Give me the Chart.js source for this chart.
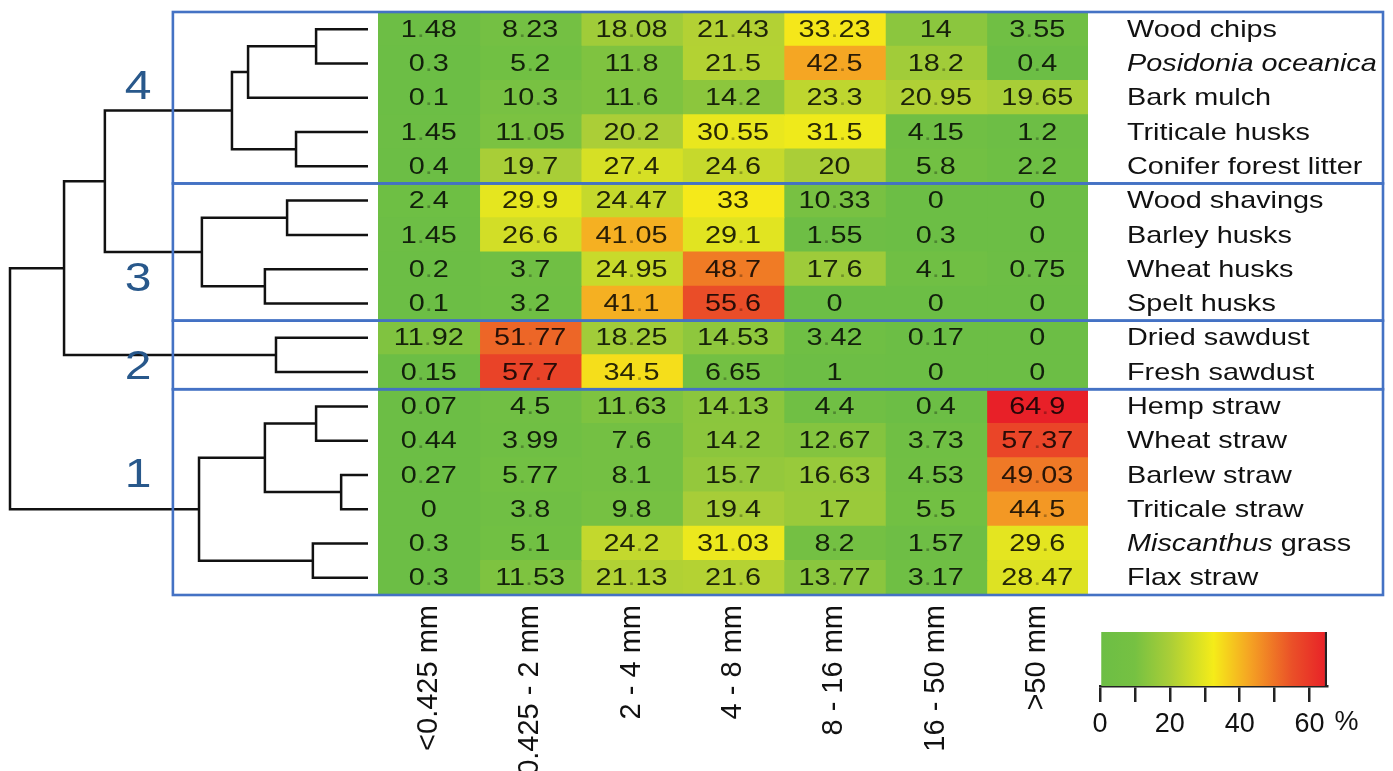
<!DOCTYPE html>
<html>
<head>
<meta charset="utf-8">
<script src="https://cdn.jsdelivr.net/npm/chart.js@4.4.1/dist/chart.umd.min.js"></script>
<style>
  body { margin: 0; background: #fff; }
  #wrap { position: relative; width: 1393px; height: 771px; }
  #wrap canvas { position: absolute; left: 0; top: 0; }
</style>
</head>
<body>
<div id="wrap">
  <canvas id="heat" width="1393" height="771"></canvas>
  <canvas id="scale" width="1393" height="771"></canvas>
  <canvas id="tree" width="1393" height="771"></canvas>
</div>
<script>
// particle size classes (columns) and materials (rows, top to bottom)
const sizeClasses = ['<0.425 mm', '0.425 - 2 mm', '2 - 4 mm', '4 - 8 mm', '8 - 16 mm', '16 - 50 mm', '>50 mm'];
const materials = ['Wood chips', 'Posidonia oceanica', 'Bark mulch', 'Triticale husks', 'Conifer forest litter',
  'Wood shavings', 'Barley husks', 'Wheat husks', 'Spelt husks',
  'Dried sawdust', 'Fresh sawdust',
  'Hemp straw', 'Wheat straw', 'Barlew straw', 'Triticale straw', 'Miscanthus grass', 'Flax straw'];
const italicWords = ['Posidonia', 'oceanica', 'Miscanthus'];

// % mass in each class, one array per column
const lt0425   = [1.48, 0.3, 0.1, 1.45, 0.4, 2.4, 1.45, 0.2, 0.1, 11.92, 0.15, 0.07, 0.44, 0.27, 0, 0.3, 0.3];
const s0425to2 = [8.23, 5.2, 10.3, 11.05, 19.7, 29.9, 26.6, 3.7, 3.2, 51.77, 57.7, 4.5, 3.99, 5.77, 3.8, 5.1, 11.53];
const s2to4    = [18.08, 11.8, 11.6, 20.2, 27.4, 24.47, 41.05, 24.95, 41.1, 18.25, 34.5, 11.63, 7.6, 8.1, 9.8, 24.2, 21.13];
const s4to8    = [21.43, 21.5, 14.2, 30.55, 24.6, 33, 29.1, 48.7, 55.6, 14.53, 6.65, 14.13, 14.2, 15.7, 19.4, 31.03, 21.6];
const s8to16   = [33.23, 42.5, 23.3, 31.5, 20, 10.33, 1.55, 17.6, 0, 3.42, 1, 4.4, 12.67, 16.63, 17, 8.2, 13.77];
const s16to50  = [14, 18.2, 20.95, 4.15, 5.8, 0, 0.3, 4.1, 0, 0.17, 0, 0.4, 3.73, 4.53, 5.5, 1.57, 3.17];
const gt50     = [3.55, 0.4, 19.65, 1.2, 2.2, 0, 0, 0.75, 0, 0, 0, 64.9, 57.37, 49.03, 44.5, 29.6, 28.47];
const columns = [lt0425, s0425to2, s2to4, s4to8, s8to16, s16to50, gt50];

// dendrogram merges: [a, b, height]; leaves 0..16, new clusters numbered 17, 18, ...
const merges = [
  [0, 1, 0.145], [17, 2, 0.335], [3, 4, 0.201], [18, 19, 0.38],
  [5, 6, 0.226], [7, 8, 0.288], [21, 22, 0.464], [20, 23, 0.735],
  [9, 10, 0.257], [24, 25, 0.849],
  [11, 12, 0.145], [13, 14, 0.075], [27, 28, 0.288], [15, 16, 0.154], [29, 30, 0.472],
  [26, 31, 1.0]
];
const groupNames = ['4', '3', '2', '1'];
const groupRows = [[0, 4], [5, 8], [9, 10], [11, 16]];
const groupLabelAt = [[0.642, 1.71], [0.642, 7.3], [0.642, 9.89], [0.642, 13.04]];
const cutHeight = 0.545;

// colour scale
const legendTicks = [0, 20, 40, 60];
const legendMax = 65;
const colorStops = [[0, [108, 190, 69]], [10, [118, 193, 66]], [20, [170, 206, 55]], [32.5, [245, 236, 25]],
  [42.5, [245, 166, 35]], [55, [234, 80, 40]], [65, [232, 32, 40]]];

const FONT = '"Liberation Sans", Arial, sans-serif';

function rgbAt(v) {
  for (let i = 1; i < colorStops.length; i++) {
    const [v1, c1] = colorStops[i];
    const [v0, c0] = colorStops[i - 1];
    if (v <= v1 || i === colorStops.length - 1) {
      const t = Math.max(0, Math.min(1, (v - v0) / (v1 - v0)));
      return c0.map((a, k) => Math.round(a + (c1[k] - a) * t));
    }
  }
}
const css = (c, a) => a === undefined ? `rgb(${c[0]},${c[1]},${c[2]})` : `rgba(${c[0]},${c[1]},${c[2]},${a})`;
const colorFor = v => css(rgbAt(v));

function drawNumber(ctx, v, cx, cy) {
  const cell = rgbAt(v);
  const ink = cell.map(a => Math.round(a * 0.17));
  const s = String(v);
  const [ip, fp] = s.split('.');
  const sx = 1.2;
  ctx.font = '24px ' + FONT;
  const wI = ctx.measureText(ip).width;
  const wD = fp ? ctx.measureText('.').width : 0;
  const wF = fp ? ctx.measureText(fp).width : 0;
  ctx.save();
  ctx.translate(cx - (wI + wD + wF) * sx / 2, cy + 1);
  ctx.scale(sx, 1);
  ctx.textAlign = 'left';
  ctx.textBaseline = 'middle';
  ctx.fillStyle = css(ink);
  ctx.fillText(ip, 0, 0);
  if (fp) {
    ctx.fillStyle = css(ink, 0.35);
    ctx.fillText('.', wI, 0);
    ctx.fillStyle = css(ink);
    ctx.fillText(fp, wI + wD, 0);
  }
  ctx.restore();
}

function drawRowLabel(ctx, label, x, y) {
  ctx.save();
  ctx.translate(x, y + 1);
  ctx.scale(1.2, 1);
  ctx.textAlign = 'left';
  ctx.textBaseline = 'middle';
  ctx.fillStyle = '#111';
  let pos = 0;
  label.split(' ').forEach(w => {
    ctx.font = (italicWords.includes(w) ? 'italic ' : '') + '24px ' + FONT;
    ctx.fillText(w, pos, 0);
    pos += ctx.measureText(w + ' ').width;
  });
  ctx.restore();
}

const heatText = {
  id: 'heatText',
  afterDatasetsDraw(chart) {
    const { ctx, chartArea } = chart;
    const x = chart.scales.x, y = chart.scales.y;
    columns.forEach((vals, c) => {
      const cx = x.getPixelForValue(c + 0.5);
      vals.forEach((v, r) => drawNumber(ctx, v, cx, y.getPixelForValue(r)));
    });
    materials.forEach((m, r) => drawRowLabel(ctx, m, chartArea.right + 39, y.getPixelForValue(r)));
  }
};

new Chart(document.getElementById('heat'), {
  type: 'bar',
  data: {
    labels: materials,
    datasets: columns.map((vals, c) => ({
      data: vals.map(() => [c, c + 1]),
      backgroundColor: vals.map(colorFor),
      borderWidth: 0,
      grouped: false,
      barPercentage: 1,
      categoryPercentage: 1,
      inflateAmount: 0.6
    }))
  },
  options: {
    indexAxis: 'y',
    responsive: false,
    animation: false,
    events: [],
    layout: { padding: { left: 378, right: 305, top: 12, bottom: 0 } },
    plugins: { legend: { display: false }, tooltip: { enabled: false } },
    scales: {
      x: { type: 'linear', min: 0, max: 7, display: false },
      y: { type: 'category', offset: true, display: false },
      xc: {
        type: 'category',
        labels: sizeClasses,
        position: 'bottom',
        offset: true,
        grid: { display: false, drawTicks: false },
        border: { display: false },
        ticks: {
          minRotation: 90, maxRotation: 90, autoSkip: false, padding: 10,
          color: '#111', font: { family: FONT, size: 29 }
        },
        afterFit: s => { s.height = 176; }
      }
    }
  },
  plugins: [heatText]
});

// colour bar legend
const percentSign = {
  id: 'percentSign',
  afterDraw(chart) {
    const { ctx } = chart;
    const x = chart.scales.x;
    ctx.save();
    ctx.font = '27px ' + FONT;
    ctx.fillStyle = '#111';
    ctx.textAlign = 'center';
    ctx.textBaseline = 'middle';
    ctx.fillText('%', x.getPixelForValue(60) + 37, x.top + 37);
    ctx.restore();
  }
};

new Chart(document.getElementById('scale'), {
  type: 'bar',
  data: {
    labels: [''],
    datasets: [{
      data: [[0, legendMax]],
      backgroundColor: (c) => {
        const xs = c.chart.scales.x;
        const x0 = xs ? xs.getPixelForValue(0) : NaN;
        const x1 = xs ? xs.getPixelForValue(legendMax) : NaN;
        if (!isFinite(x0) || !isFinite(x1) || x0 === x1) return colorFor(0);
        const g = c.chart.ctx.createLinearGradient(x0, 0, x1, 0);
        colorStops.forEach(([v, col]) => g.addColorStop(v / legendMax, css(col)));
        return g;
      },
      borderColor: '#222',
      borderWidth: { top: 0, left: 0, bottom: 0, right: 2.5 },
      borderSkipped: false,
      barPercentage: 1,
      categoryPercentage: 1
    }]
  },
  options: {
    indexAxis: 'y',
    responsive: false,
    animation: false,
    events: [],
    layout: { padding: { left: 1100, right: 66, top: 632, bottom: 0 } },
    plugins: { legend: { display: false }, tooltip: { enabled: false } },
    scales: {
      y: { type: 'category', offset: true, display: false },
      x: {
        type: 'linear', min: 0, max: legendMax,
        grid: { drawOnChartArea: false, tickLength: 16, color: '#222', lineWidth: 2.5 },
        border: { display: true, color: '#222', width: 2.5 },
        ticks: {
          stepSize: 10, includeBounds: false, padding: 6,
          color: '#111', font: { family: FONT, size: 27 },
          callback: v => legendTicks.includes(v) ? String(v) : ''
        },
        afterFit: s => { s.height = 85; }
      }
    }
  },
  plugins: [percentSign]
});

// dendrogram with group boxes
const pos = materials.map((m, i) => ({ x: 0, y: i }));
const segments = merges.map(([a, b, h]) => {
  const A = pos[a], B = pos[b];
  pos.push({ x: h, y: (A.y + B.y) / 2 });
  return [{ x: A.x, y: A.y }, { x: h, y: A.y }, { x: h, y: B.y }, { x: B.x, y: B.y }];
});

const groupBoxes = {
  id: 'groupBoxes',
  afterDraw(chart) {
    const { ctx } = chart;
    const x = chart.scales.x, y = chart.scales.y;
    const left = x.getPixelForValue(cutHeight);
    const right = chart.width - 10;
    ctx.save();
    ctx.strokeStyle = '#4472c4';
    ctx.lineWidth = 2.6;
    groupRows.forEach(([r0, r1]) => {
      const top = y.getPixelForValue(r0 - 0.5);
      const bot = y.getPixelForValue(r1 + 0.5);
      ctx.strokeRect(left, top, right - left, bot - top);
    });
    ctx.fillStyle = '#28588b';
    ctx.font = '40px ' + FONT;
    ctx.textAlign = 'center';
    ctx.textBaseline = 'middle';
    groupNames.forEach((g, i) => {
      const [gx, gy] = groupLabelAt[i];
      ctx.save();
      ctx.translate(x.getPixelForValue(gx), y.getPixelForValue(gy));
      ctx.scale(1.2, 1);
      ctx.fillText(g, 0, 0);
      ctx.restore();
    });
    ctx.restore();
  }
};

new Chart(document.getElementById('tree'), {
  type: 'scatter',
  data: {
    datasets: segments.map(seg => ({
      data: seg,
      showLine: true,
      borderColor: '#111',
      borderWidth: 2.5,
      pointRadius: 0,
      clip: false
    }))
  },
  options: {
    responsive: false,
    animation: false,
    events: [],
    layout: { padding: { left: 10, right: 1025, top: 12, bottom: 176 } },
    plugins: { legend: { display: false }, tooltip: { enabled: false } },
    scales: {
      x: { type: 'linear', min: 0, max: 1, reverse: true, display: false },
      y: { type: 'linear', min: -0.5, max: materials.length - 0.5, reverse: true, display: false }
    }
  },
  plugins: [groupBoxes]
});
</script>
</body>
</html>
